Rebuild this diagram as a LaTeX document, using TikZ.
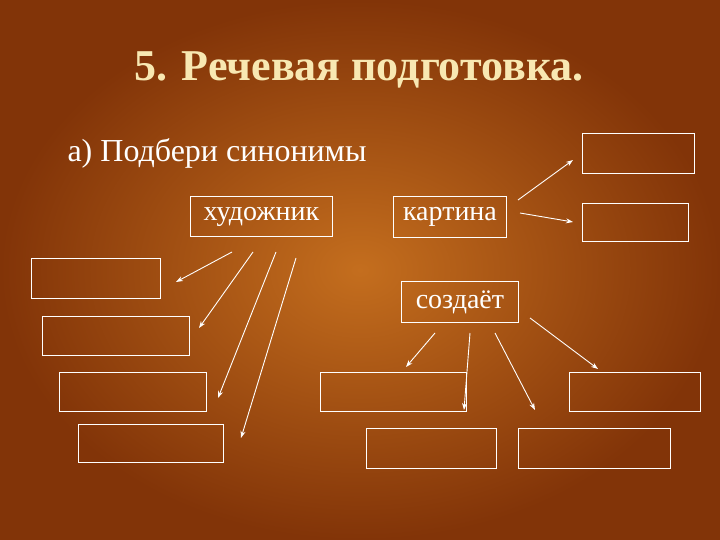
\documentclass[tikz,border=0pt]{standalone}
\usepackage{fontspec}
\usetikzlibrary{arrows.meta}
\setmainfont{Liberation Serif}
\begin{document}
\begin{tikzpicture}[x=1pt,y=-1pt,
  box/.style={draw=white,line width=0.9pt,anchor=north west,inner sep=0pt},
  lbl/.style={text=white,font=\fontsize{28}{32}\selectfont},
  arr/.style={draw=white,line width=0.9pt,-{Stealth[length=7pt,width=5pt]}}]
\shade[inner color={rgb,255:red,196;green,110;blue,30},outer color={rgb,255:red,130;green,52;blue,8}] (0,0) rectangle (720,540);
\useasboundingbox (0,0) rectangle (720,540);
\node[text={rgb,255:red,248;green,232;blue,178},font=\bfseries\fontsize{44}{50}\selectfont] (title) at (359,70) {5. Речевая подготовка.};
\node[text=white,font=\fontsize{32}{36}\selectfont,anchor=west] (sub) at (64,153) {а) Подбери синонимы};
% labelled boxes
\node[box,minimum width=142pt,minimum height=40pt,lbl] (hud) at (190,196) {художник};
\node[box,minimum width=113pt,minimum height=41pt,lbl] (kar) at (393,196) {картина};
\node[box,minimum width=117pt,minimum height=41pt,lbl] (soz) at (401,281) {создаёт};
% empty boxes
\node[box,minimum width=112pt,minimum height=40pt] (r1) at (582,133) {};
\node[box,minimum width=106pt,minimum height=38pt] (r2) at (582,203) {};
\node[box,minimum width=129pt,minimum height=40pt] (l1) at (31,258) {};
\node[box,minimum width=147pt,minimum height=39pt] (l2) at (42,316) {};
\node[box,minimum width=147pt,minimum height=39pt] (l3) at (59,372) {};
\node[box,minimum width=145pt,minimum height=38pt] (l4) at (78,424) {};
\node[box,minimum width=146pt,minimum height=39pt] (b1) at (320,372) {};
\node[box,minimum width=130pt,minimum height=40pt] (b2) at (366,428) {};
\node[box,minimum width=152pt,minimum height=40pt] (b3) at (518,428) {};
\node[box,minimum width=131pt,minimum height=39pt] (b4) at (569,372) {};
% arrow ends
\coordinate (k1s) at (518,200); \coordinate (k1e) at (573,160);
\coordinate (k2s) at (520,213); \coordinate (k2e) at (573,222);
\coordinate (h1s) at (232,252); \coordinate (h1e) at (176,282);
\coordinate (h2s) at (253,252); \coordinate (h2e) at (199,328);
\coordinate (h3s) at (276,252); \coordinate (h3e) at (218,398);
\coordinate (h4s) at (296,258); \coordinate (h4e) at (241,438);
\coordinate (s1s) at (435,333); \coordinate (s1e) at (406,367);
\coordinate (s2s) at (470,333); \coordinate (s2e) at (464,410);
\coordinate (s3s) at (495,333); \coordinate (s3e) at (535,410);
\coordinate (s4s) at (530,318); \coordinate (s4e) at (598,369);
\foreach \a in {k1,k2,h1,h2,h3,h4,s1,s2,s3,s4} \draw[arr] (\a s) -- (\a e);
\end{tikzpicture}
\end{document}
